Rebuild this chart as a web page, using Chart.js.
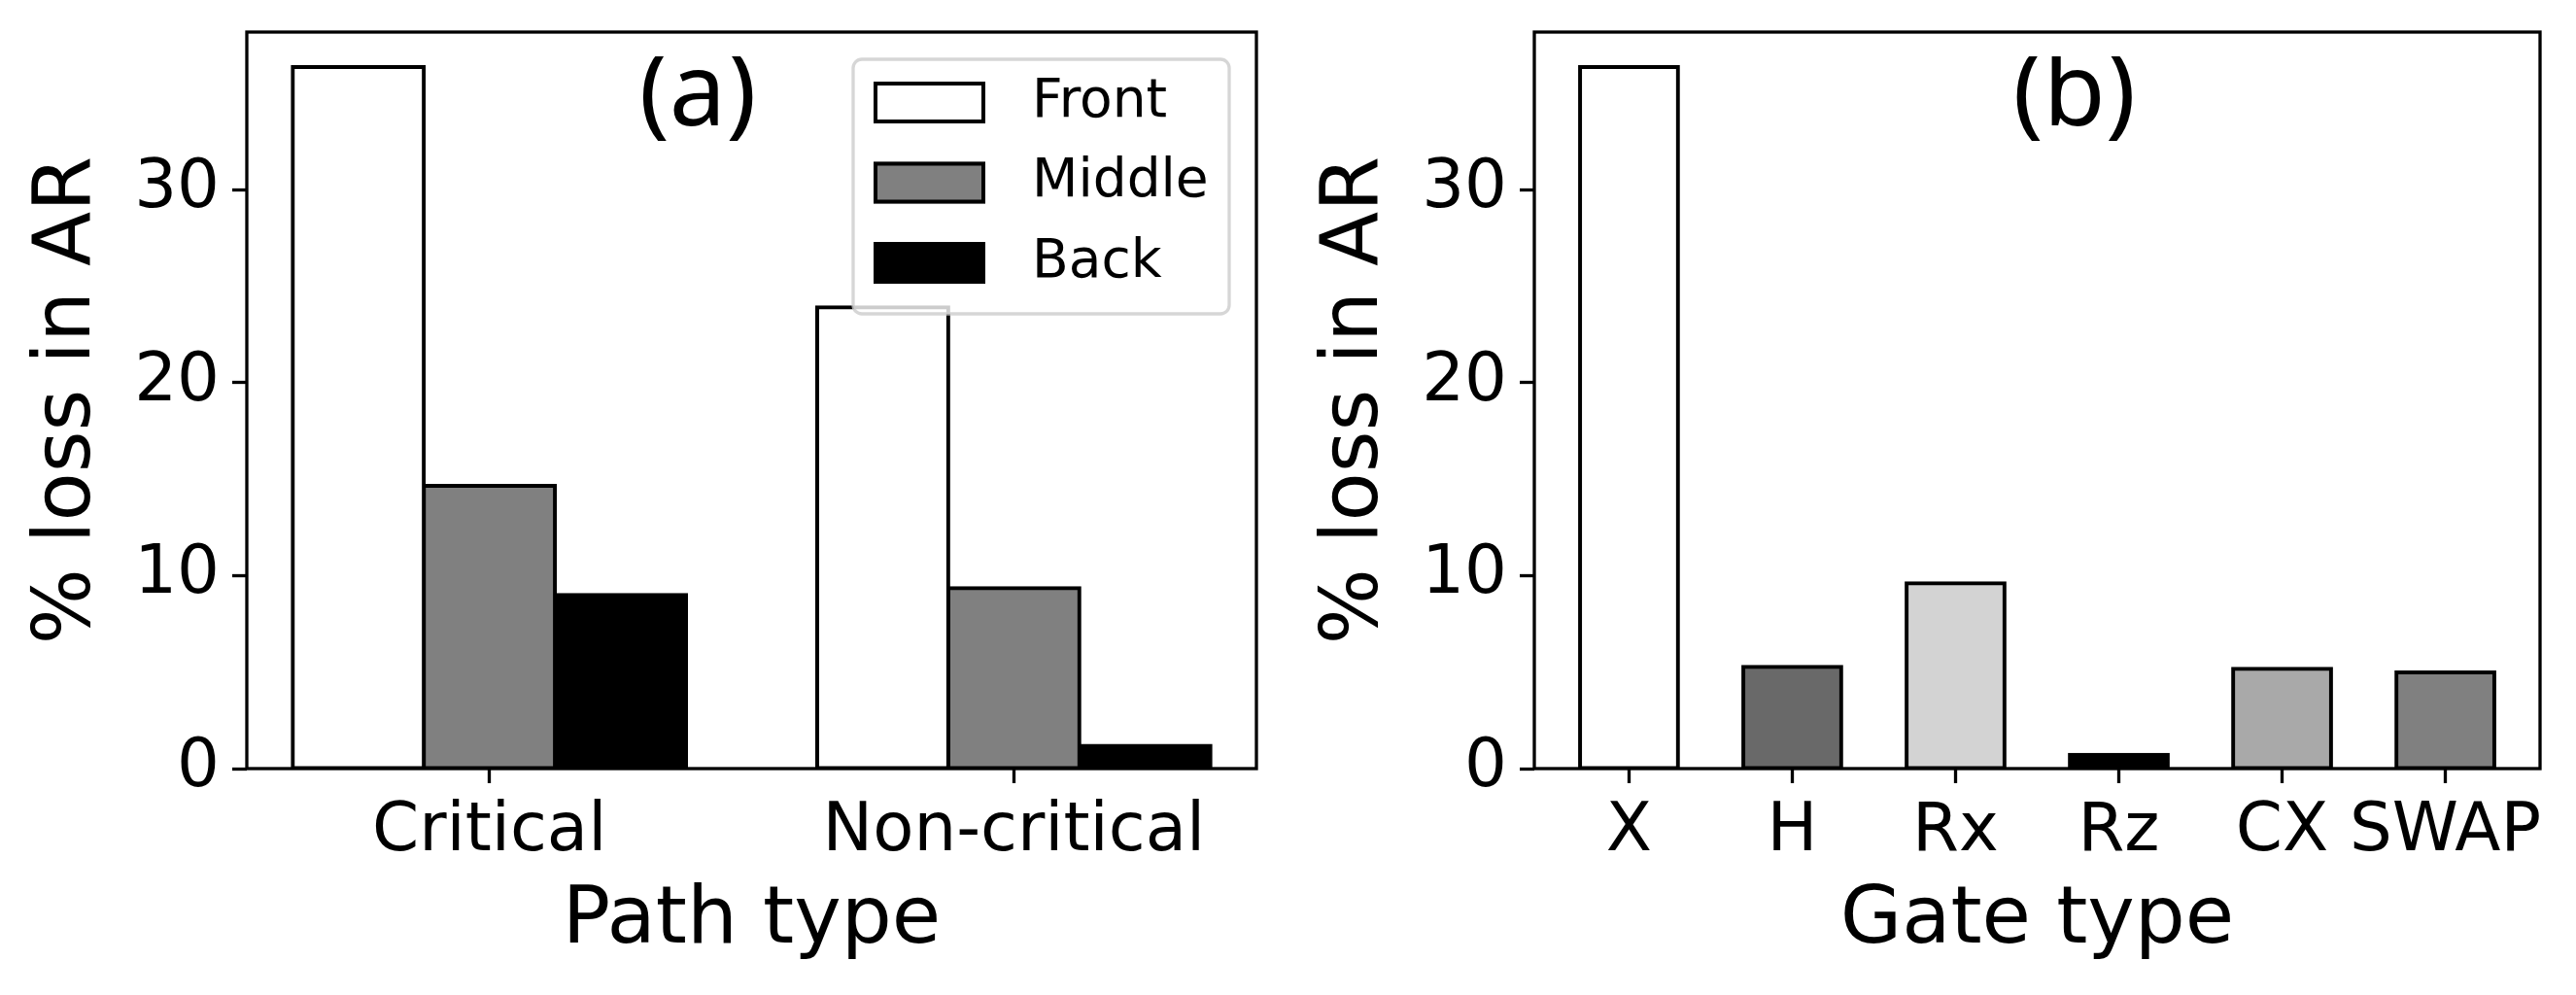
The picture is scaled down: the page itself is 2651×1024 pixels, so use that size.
<!DOCTYPE html>
<html>
<head>
<meta charset="utf-8">
<script src="https://cdn.jsdelivr.net/npm/chart.js@4.4.1/dist/chart.umd.min.js"></script>
<style>
  html, body { margin: 0; padding: 0; background: #fff; }
  body { width: 2651px; height: 1024px; overflow: hidden; position: relative; }
  #wa { position: absolute; left: 0; top: 0; width: 1330px; height: 1024px; }
  #wb { position: absolute; left: 1325px; top: 0; width: 1326px; height: 1024px; }
  canvas { display: block; }
</style>
</head>
<body>
<div id="wa"><canvas id="ca" width="1330" height="1024"></canvas></div>
<div id="wb"><canvas id="cb" width="1326" height="1024"></canvas></div>
<script>
// ---------------- DATA ----------------
const pathTypes = ['Critical', 'Non-critical'];
const positionNames = ['Front', 'Middle', 'Back'];
const frontLoss = [36.35, 23.9];
const middleLoss = [14.65, 9.35];
const backLoss = [9.0, 1.18];

const gateTypes = ['X', 'H', 'Rx', 'Rz', 'CX', 'SWAP'];
const gateLoss = [36.35, 5.28, 9.61, 0.72, 5.18, 4.98];

const yTicks = [0, 10, 20, 30];
const yTitle = '% loss in AR';
const xTitleA = 'Path type';
const xTitleB = 'Gate type';
const panelLabels = ['(a)', '(b)'];

// ---------------- STYLE ----------------
const FONT = "'DejaVu Sans', sans-serif";
const positionColors = ['#ffffff', '#808080', '#000000'];
const gateColors = ['#ffffff', '#696969', '#d3d3d3', '#000000', '#a9a9a9', '#808080'];

const allVals = frontLoss.concat(middleLoss, backLoss, gateLoss);
const yMax = Math.max(...allVals) * 1.05;

function xRange(n, groupWidth) {
  const lo = -groupWidth / 2, hi = n - 1 + groupWidth / 2;
  const m = 0.05 * (hi - lo);
  return [lo - m, hi + m];
}

function decorPlugin(labelText, labelFrac, withLegend) {
  return {
    id: 'decor',
    afterDatasetsDraw(chart) {
      const ctx = chart.ctx;
      const a = chart.chartArea;
      // frame (spines)
      ctx.save();
      ctx.strokeStyle = '#000';
      ctx.lineWidth = 3.3;
      ctx.strokeRect(a.left, a.top, a.right - a.left, a.bottom - a.top);
      ctx.restore();

      // panel label
      ctx.save();
      ctx.beginPath();
      ctx.rect(a.left, a.top + 25, a.right - a.left, 89);
      ctx.clip();
      ctx.fillStyle = '#000';
      ctx.font = "104px 'Noto Sans', sans-serif";
      ctx.textAlign = 'center';
      ctx.textBaseline = 'alphabetic';
      ctx.fillText(labelText, a.left + labelFrac * (a.right - a.left), a.top + 96);
      ctx.restore();

      if (withLegend) {
        const bw = 387, bh = 262;
        const bx = a.right - 28 - bw, by = a.top + 28;
        ctx.save();
        ctx.beginPath();
        ctx.roundRect(bx, by, bw, bh, 9);
        ctx.fillStyle = 'rgba(255,255,255,0.8)';
        ctx.fill();
        ctx.lineWidth = 3.3;
        ctx.strokeStyle = 'rgba(204,204,204,0.8)';
        ctx.stroke();
        chart.data.datasets.forEach((ds, i) => {
          const px = bx + 21, py = by + 23 + i * 82.5, pw = 115, ph = 43;
          ctx.fillStyle = ds.backgroundColor;
          ctx.fillRect(px, py, pw, ph);
          ctx.lineWidth = 4;
          ctx.strokeStyle = ds.borderColor;
          ctx.strokeRect(px + 2, py + 2, pw - 4, ph - 4);
          ctx.fillStyle = '#000';
          ctx.font = '55px ' + FONT;
          ctx.textAlign = 'left';
          ctx.textBaseline = 'middle';
          ctx.fillText(ds.label, bx + 184, py + ph / 2);
        });
        ctx.restore();
      }
    }
  };
}

function makeOptions(cats, range, xTitle, catPct) {
  return {
    responsive: false,
    animation: false,
    devicePixelRatio: 1,
    layout: { padding: { top: 33, right: 37, left: 0, bottom: 0 } },
    plugins: { legend: { display: false }, tooltip: { enabled: false } },
    categoryPercentage: catPct,
    barPercentage: 1,
    scales: {
      x: {
        type: 'linear',
        min: range[0],
        max: range[1],
        offset: false,
        afterBuildTicks: s => { s.ticks = cats.map((c, i) => ({ value: i })); },
        afterFit: s => { s.height = 233; s.paddingLeft = 0; s.paddingRight = 0; },
        grid: { display: true, offset: false, drawOnChartArea: false, drawTicks: true, tickLength: 15, tickWidth: 3.3, tickColor: '#000' },
        border: { display: false },
        ticks: {
          autoSkip: false, maxRotation: 0, minRotation: 0, padding: 10, color: '#000',
          font: { family: FONT, size: 69 },
          callback: v => (cats[v] !== undefined ? cats[v] : '')
        },
        title: { display: true, text: xTitle, color: '#000', font: { family: FONT, size: 82 }, padding: { top: 0, bottom: 26 } }
      },
      y: {
        min: 0,
        max: yMax,
        afterBuildTicks: s => { s.ticks = yTicks.map(v => ({ value: v })); },
        afterFit: s => { s.width = 254; s.paddingTop = 0; s.paddingBottom = 0; },
        grid: { display: true, offset: false, drawOnChartArea: false, drawTicks: true, tickLength: 15, tickWidth: 3.3, tickColor: '#000' },
        border: { display: false },
        ticks: { padding: 13, color: '#000', font: { family: FONT, size: 69 } },
        title: { display: true, text: yTitle, color: '#000', font: { family: FONT, size: 82 }, padding: { top: 22, bottom: 0 } }
      }
    }
  };
}

// ---------------- CHART (a) ----------------
const seriesA = [frontLoss, middleLoss, backLoss];
new Chart(document.getElementById('ca'), {
  type: 'bar',
  data: {
    datasets: seriesA.map((vals, k) => ({
      label: positionNames[k],
      data: pathTypes.map((c, i) => ({ x: i, y: vals[i] })),
      backgroundColor: positionColors[k],
      borderColor: '#000',
      borderWidth: 4,
      borderSkipped: false,
      inflateAmount: 2
    }))
  },
  options: makeOptions(pathTypes, xRange(pathTypes.length, 0.75), xTitleA, 0.75),
  plugins: [decorPlugin(panelLabels[0], 0.4466, true)]
});

// ---------------- CHART (b) ----------------
new Chart(document.getElementById('cb'), {
  type: 'bar',
  data: {
    datasets: [{
      label: 'Gate',
      data: gateTypes.map((c, i) => ({ x: i, y: gateLoss[i] })),
      backgroundColor: gateColors,
      borderColor: '#000',
      borderWidth: 4,
      borderSkipped: false,
      inflateAmount: 2
    }]
  },
  options: makeOptions(gateTypes, xRange(gateTypes.length, 0.6), xTitleB, 0.6),
  plugins: [decorPlugin(panelLabels[1], 0.537, false)]
});
</script>
</body>
</html>
